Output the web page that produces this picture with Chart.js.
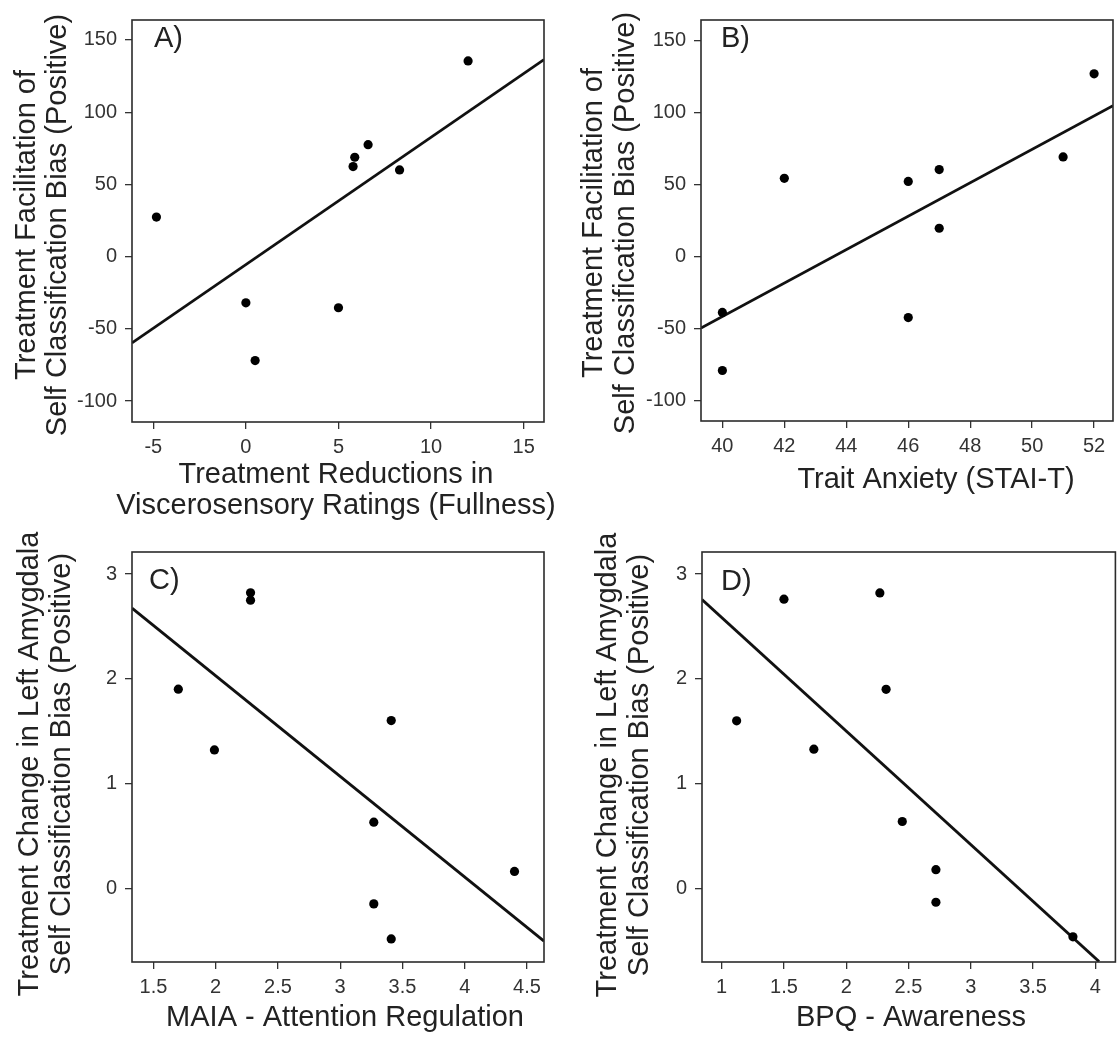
<!DOCTYPE html>
<html>
<head>
<meta charset="utf-8">
<script src="https://cdn.jsdelivr.net/npm/chart.js@4.4.1/dist/chart.umd.min.js"></script>
<style>
html,body{margin:0;padding:0;background:#fff;}
#wrap{position:relative;width:1120px;height:1040px;overflow:hidden;}
.cell{position:absolute;width:560px;height:520px;}
canvas{display:block;}
</style>
</head>
<body>
<div id="wrap">
  <div class="cell" style="left:0;top:0"><canvas id="cA" width="560" height="520"></canvas></div>
  <div class="cell" style="left:560px;top:0"><canvas id="cB" width="560" height="520"></canvas></div>
  <div class="cell" style="left:0;top:520px"><canvas id="cC" width="560" height="520"></canvas></div>
  <div class="cell" style="left:560px;top:520px"><canvas id="cD" width="560" height="520"></canvas></div>
</div>
<script>
// ---------- Panel A ----------
const aX = [-4.83, 0.0, 0.5, 5.0, 5.79, 5.88, 6.6, 8.3, 12.0];
const aY = [27.4, -32, -72, -35.4, 62.3, 68.8, 77.5, 60, 135.5];
const aFitX = [-6.15, 16.1];
const aFitY = [-59.7, 136.4];
const aXTicks = [-5, 0, 5, 10, 15];
const aYTicks = [-100, -50, 0, 50, 100, 150];

// ---------- Panel B ----------
const bX = [40, 40, 42, 46, 46, 47, 47, 51, 52];
const bY = [-38.8, -79.2, 54.4, 52.3, -42.4, 60.5, 19.7, 69.3, 127.1];
const bFitX = [39.31, 52.61];
const bFitY = [-49.7, 104.9];
const bXTicks = [40, 42, 44, 46, 48, 50, 52];
const bYTicks = [-100, -50, 0, 50, 100, 150];

// ---------- Panel C ----------
const cX = [1.70, 1.99, 2.28, 2.28, 3.41, 3.27, 3.27, 3.41, 4.40];
const cY = [1.90, 1.32, 2.82, 2.75, 1.60, 0.63, -0.15, -0.485, 0.16];
const cFitX = [1.328, 4.637];
const cFitY = [2.674, -0.506];
const cXTicks = [1.5, 2, 2.5, 3, 3.5, 4, 4.5];
const cYTicks = [0, 1, 2, 3];

// ---------- Panel D ----------
const dX = [1.12, 1.50, 1.74, 2.27, 2.32, 2.45, 2.72, 2.72, 3.82];
const dY = [1.60, 2.76, 1.33, 2.82, 1.90, 0.64, 0.18, -0.13, -0.46];
const dFitX = [0.842, 4.03];
const dFitY = [2.757, -0.696];
const dXTicks = [1, 1.5, 2, 2.5, 3, 3.5, 4];
const dYTicks = [0, 1, 2, 3];

const FONT = "'Liberation Sans', Arial, Helvetica, sans-serif";

function pts(xs, ys) { return xs.map((x, i) => ({ x: x, y: ys[i] })); }

function makePanel(id, cfg) {
  const deco = {
    id: 'deco_' + id,
    afterDraw(chart) {
      const ctx = chart.ctx;
      const a = chart.chartArea;
      ctx.save();
      ctx.strokeStyle = '#2b2b2b';
      ctx.lineWidth = 1.6;
      ctx.strokeRect(a.left, a.top, a.right - a.left, a.bottom - a.top);
      ctx.fillStyle = '#222';
      // panel letter
      ctx.font = '29px ' + FONT;
      ctx.textAlign = 'left';
      ctx.textBaseline = 'alphabetic';
      ctx.fillText(cfg.letter, cfg.letterPos[0], cfg.letterPos[1]);
      // x title
      ctx.textAlign = 'center';
      ctx.font = '29px ' + FONT;
      cfg.xTitle.forEach((t, i) => ctx.fillText(t, cfg.xTitlePos[0], cfg.xTitlePos[1][i]));
      // y title (rotated)
      ctx.textBaseline = 'middle';
      cfg.yTitle.forEach((t, i) => {
        ctx.save();
        ctx.translate(cfg.yTitlePos[0][i], cfg.yTitlePos[1]);
        ctx.rotate(-Math.PI / 2);
        ctx.fillText(t, 0, 0);
        ctx.restore();
      });
      ctx.restore();
    }
  };
  const tickFont = { family: FONT, size: 20 };
  return new Chart(document.getElementById(id), {
    type: 'scatter',
    data: {
      datasets: [
        {
          data: pts(cfg.fitX, cfg.fitY),
          showLine: true,
          borderColor: '#111',
          borderWidth: 2.8,
          pointRadius: 0,
          order: 2
        },
        {
          data: pts(cfg.xs, cfg.ys),
          backgroundColor: '#000',
          borderWidth: 0,
          pointRadius: 4.6,
          order: 1
        }
      ]
    },
    options: {
      responsive: false,
      animation: false,
      events: [],
      layout: { padding: { left: 0, top: cfg.area[1], right: 560 - cfg.area[2], bottom: 520 - cfg.area[3] - 60 } },
      plugins: { legend: { display: false }, tooltip: { enabled: false } },
      scales: {
        x: {
          type: 'linear', min: cfg.xRange[0], max: cfg.xRange[1],
          afterBuildTicks: s => { s.ticks = cfg.xTicks.map(v => ({ value: v })); },
          afterFit: s => { s.height = 60; },
          ticks: { callback: v => String(v), font: tickFont, color: '#333', padding: 6, maxRotation: 0, autoSkip: false },
          grid: { drawOnChartArea: false, drawTicks: true, tickLength: 7, color: '#333', lineWidth: 1.3 },
          border: { display: false }
        },
        y: {
          type: 'linear', min: cfg.yRange[0], max: cfg.yRange[1],
          afterBuildTicks: s => { s.ticks = cfg.yTicks.map(v => ({ value: v })); },
          afterFit: s => { s.width = cfg.area[0]; },
          ticks: { callback: v => String(v), font: tickFont, color: '#333', padding: 8, autoSkip: false },
          grid: { drawOnChartArea: false, drawTicks: true, tickLength: 7, color: '#333', lineWidth: 1.3 },
          border: { display: false }
        }
      }
    },
    plugins: [deco]
  });
}

makePanel('cA', {
  xs: aX, ys: aY, fitX: aFitX, fitY: aFitY, xTicks: aXTicks, yTicks: aYTicks,
  xRange: [-6.15, 16.1], yRange: [-114.5, 163.8],
  area: [132, 12, 544, 422],
  letter: 'A)', letterPos: [154, 47],
  xTitle: ['Treatment Reductions in', 'Viscerosensory Ratings (Fullness)'], xTitlePos: [336, [483, 514]],
  yTitle: ['Treatment Facilitation of', 'Self Classification Bias (Positive)'], yTitlePos: [[27, 58], 225]
});
makePanel('cB', {
  xs: bX, ys: bY, fitX: bFitX, fitY: bFitY, xTicks: bXTicks, yTicks: bYTicks,
  xRange: [39.31, 52.61], yRange: [-114.3, 164.5],
  area: [141, 11, 553, 421],
  letter: 'B)', letterPos: [161, 47],
  xTitle: ['Trait Anxiety (STAI-T)'], xTitlePos: [376, [488]],
  yTitle: ['Treatment Facilitation of', 'Self Classification Bias (Positive)'], yTitlePos: [[34, 66], 223]
});
makePanel('cC', {
  xs: cX, ys: cY, fitX: cFitX, fitY: cFitY, xTicks: cXTicks, yTicks: cYTicks,
  xRange: [1.328, 4.637], yRange: [-0.705, 3.21],
  area: [132, 32, 544, 442],
  letter: 'C)', letterPos: [149, 69],
  xTitle: ['MAIA - Attention Regulation'], xTitlePos: [345, [506]],
  yTitle: ['Treatment Change in Left Amygdala', 'Self Classification Bias (Positive)'], yTitlePos: [[30, 62], 244]
});
makePanel('cD', {
  xs: dX, ys: dY, fitX: dFitX, fitY: dFitY, xTicks: dXTicks, yTicks: dYTicks,
  xRange: [0.842, 4.161], yRange: [-0.70, 3.21],
  area: [142, 32, 556, 442],
  letter: 'D)', letterPos: [161, 70],
  xTitle: ['BPQ - Awareness'], xTitlePos: [351, [506]],
  yTitle: ['Treatment Change in Left Amygdala', 'Self Classification Bias (Positive)'], yTitlePos: [[48, 80], 245]
});
</script>
</body>
</html>
